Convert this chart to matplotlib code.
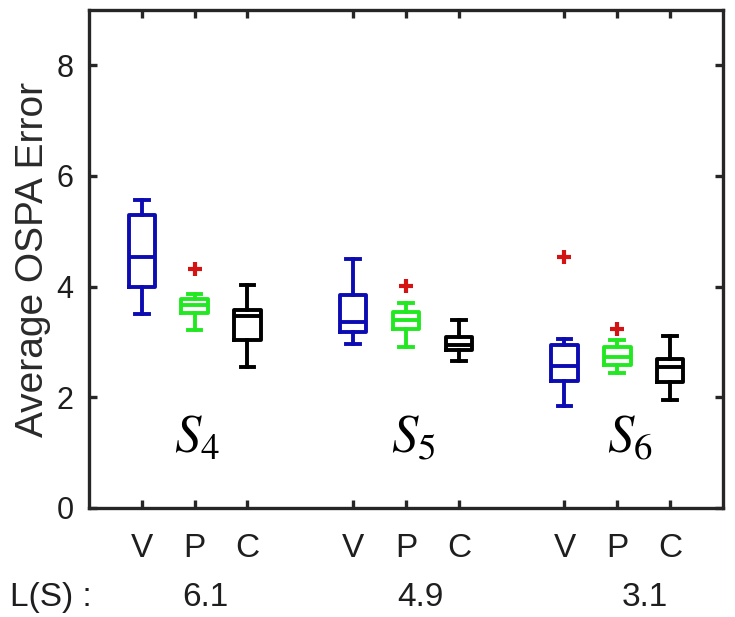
import matplotlib
matplotlib.use('Agg')
import matplotlib.pyplot as plt

# box statistics (V, P, C for S4, S5, S6)
positions = [1, 2, 3, 5, 6, 7, 9, 10, 11]
tick_labels = ['V', 'P', 'C'] * 3
whis_lo = [3.51, 3.21, 2.55, 2.97, 2.91, 2.65, 1.84, 2.44, 1.95]
q1 = [4.00, 3.52, 3.03, 3.18, 3.24, 2.85, 2.29, 2.58, 2.28]
med = [4.54, 3.66, 3.47, 3.36, 3.40, 2.94, 2.56, 2.72, 2.54]
q3 = [5.29, 3.78, 3.58, 3.85, 3.54, 3.09, 2.94, 2.91, 2.70]
whis_hi = [5.57, 3.86, 4.03, 4.50, 3.70, 3.39, 3.06, 3.03, 3.10]
fliers = [[], [4.32], [], [], [4.02], [], [4.53], [3.23], []]

scenarios = [r'$S_4$', r'$S_5$', r'$S_6$']
scenario_x = [2.05, 6.14, 10.23]
ls_values = ['6.1', '4.9', '3.1']
ls_x = [2.22, 6.31, 10.57]

colors = ['#0c0cb2', '#22e822', '#000000'] * 3

plt.rcParams['font.family'] = ['Liberation Sans', 'DejaVu Sans']
plt.rcParams['mathtext.fontset'] = 'stix'

fig = plt.figure(figsize=(7.35, 6.17), dpi=100)
ax = fig.add_axes([0.121, 0.1767, 0.8627, 0.8071])

stats = []
for i in range(len(positions)):
    stats.append({'med': med[i], 'q1': q1[i], 'q3': q3[i],
                  'whislo': whis_lo[i], 'whishi': whis_hi[i],
                  'fliers': fliers[i]})

bp = ax.bxp(stats, positions=positions, widths=0.5, capwidths=0.26,
            showfliers=True, patch_artist=False,
            flierprops=dict(marker='+', markeredgecolor='#d41414',
                            markersize=10, markeredgewidth=3))

lw = 2.8
for i, c in enumerate(colors):
    bp['boxes'][i].set(color=c, linewidth=lw)
    bp['medians'][i].set(color=c, linewidth=lw)
    for k in (2 * i, 2 * i + 1):
        bp['whiskers'][k].set(color=c, linewidth=lw)
        bp['caps'][k].set(color=c, linewidth=lw)

ax.set_xlim(0, 12)
ax.set_ylim(0, 9)
ax.set_yticks([0, 2, 4, 6, 8])
ax.set_xticks(positions)
ax.set_xticklabels(tick_labels)

for s in ax.spines.values():
    s.set_linewidth(2.4)
    s.set_color('#262626')

ax.tick_params(axis='both', direction='in', length=6, width=2.4,
               color='#262626', top=True, right=True)
ax.tick_params(axis='x', labelsize=24, pad=18, labelcolor='#1e1e1e')
ax.tick_params(axis='y', labelsize=22, pad=11, labelcolor='#1e1e1e')

ax.set_ylabel('Average OSPA Error', fontsize=28, color='#2a2a2a', labelpad=4)

for x, s in zip(scenario_x, scenarios):
    ax.text(x, 1.0, s, fontsize=38, ha='center', va='baseline')

# L(S) row under the axis
fig.text(0.014, 0.032, 'L(S) :', fontsize=24, color='#1e1e1e', va='center')
for x, v in zip(ls_x, ls_values):
    fig.text((89 + 52.6 * x) / 735, 0.032, v, fontsize=24, color='#1e1e1e',
             ha='center', va='center')

fig.savefig('out.png', dpi=100)
